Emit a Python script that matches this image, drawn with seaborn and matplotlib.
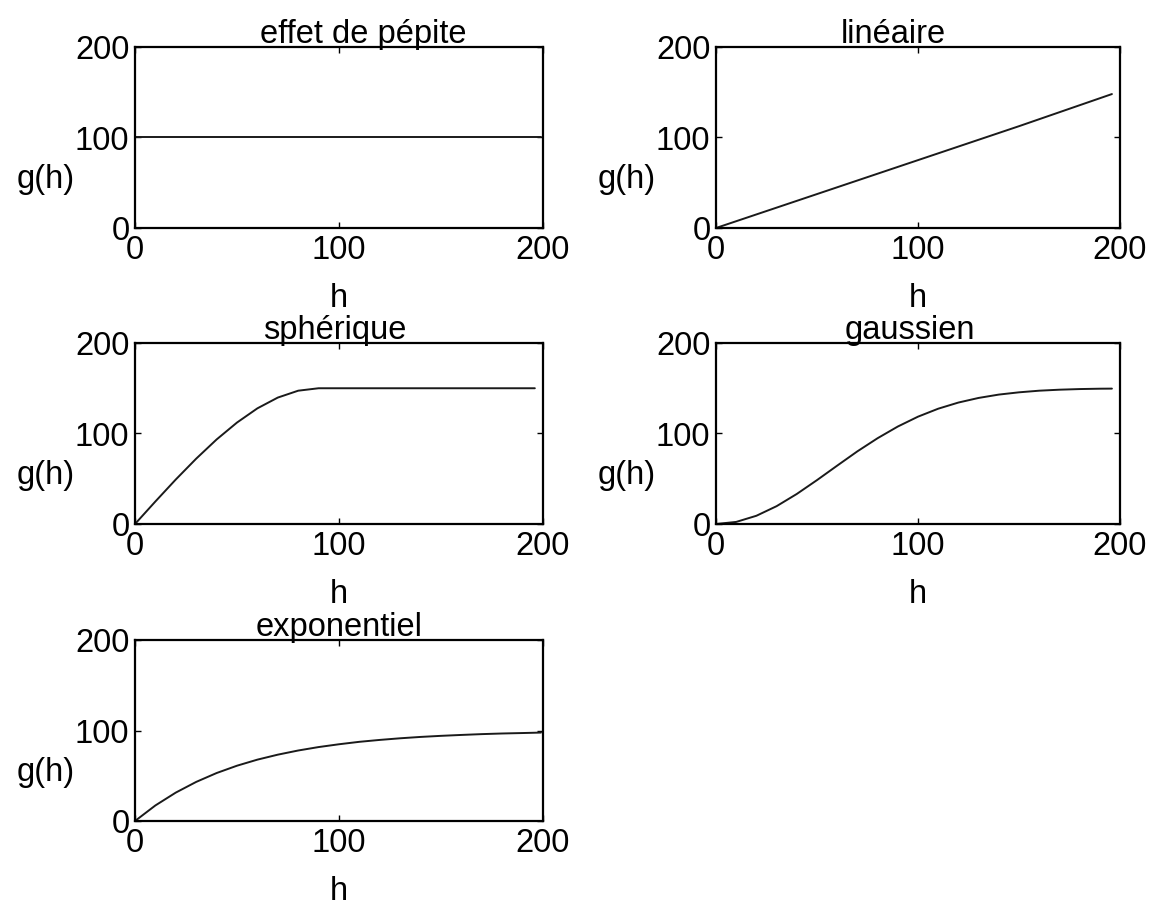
import matplotlib
matplotlib.use("Agg")
import matplotlib.pyplot as plt
import seaborn as sns
import pandas as pd

# ---- data ----
titles = ["effet de pépite", "linéaire", "sphérique", "gaussien", "exponentiel"]

h_nugget = [0, 50, 100, 150, 199]
g_nugget = [100, 100, 100, 100, 100]

h_linear = [0, 50, 100, 150, 196]
g_linear = [0, 37.5, 75, 112.5, 148]

h_sph = [0, 10, 20, 30, 40, 50, 60, 70, 80, 90, 100, 120, 140, 160, 180, 196]
g_sph = [0, 24.9, 49.2, 72.2, 93.4, 112.1, 127.8, 139.7, 147.3, 150, 150, 150, 150, 150, 150, 150]

h_gau = [0, 10, 20, 30, 40, 50, 60, 70, 80, 90, 100, 110, 120, 130, 140, 150, 160, 170, 180, 190, 196]
g_gau = [0, 2.3, 9.1, 19.7, 33.2, 48.5, 64.5, 80.3, 94.8, 107.7, 118.6, 127.4, 134.2, 139.3,
         143.0, 145.5, 147.3, 148.4, 149.1, 149.5, 149.6]

h_exp = [0, 10, 20, 30, 40, 50, 60, 70, 80, 90, 100, 110, 120, 130, 140, 150, 160, 170, 180, 190, 199]
g_exp = [0, 17.2, 31.4, 43.2, 53.0, 61.1, 67.8, 73.3, 77.9, 81.7, 84.8, 87.5, 89.6, 91.4,
         92.9, 94.1, 95.1, 96.0, 96.7, 97.2, 97.7]

series = [(h_nugget, g_nugget), (h_linear, g_linear), (h_sph, g_sph),
          (h_gau, g_gau), (h_exp, g_exp)]
ticks = [0, 100, 200]
tick_labels = ["0", "100", "200"]
title_x = [0.56, 0.44, 0.49, 0.48, 0.50]

sns.set_style("ticks")
plt.rcParams['font.family'] = ['Liberation Sans', 'DejaVu Sans']
plt.rcParams['text.color'] = 'black'
plt.rcParams['axes.labelcolor'] = 'black'

fig = plt.figure(figsize=(11.58, 9.05), dpi=100)
W, H = 1158, 905
col_left = [135, 716]
col_w = [408, 404]
row_top = [47, 343, 640]
ax_h = 181

fs = 23.5
for i, (hx, gy) in enumerate(series):
    r, c = divmod(i, 2)
    rect = [col_left[c] / W, 1 - (row_top[r] + ax_h) / H, col_w[c] / W, ax_h / H]
    ax = fig.add_axes(rect)
    df = pd.DataFrame({"h": hx, "g": gy})
    sns.lineplot(data=df, x="h", y="g", ax=ax, color="#1a1a1a", linewidth=1.4)
    ax.set_xlim(0, 200)
    ax.set_ylim(0, 200)
    ax.set_xticks(ticks)
    ax.set_xticklabels(tick_labels)
    ax.set_yticks(ticks)
    ax.set_yticklabels(tick_labels)
    ax.tick_params(direction="in", length=4, width=1, top=True, right=True,
                   labelsize=fs, colors="black")
    ax.tick_params(axis="x", pad=5)
    ax.tick_params(axis="y", pad=4)
    for s in ax.spines.values():
        s.set_linewidth(1.6)
        s.set_color("black")
    ax.set_title(titles[i], fontsize=fs, pad=3, x=title_x[i], color="black")
    ax.set_xlabel("h", fontsize=fs)
    ax.set_ylabel("g(h)", fontsize=fs, rotation=0, ha="center", va="center")
    ax.xaxis.set_label_coords(0.5, -0.387)
    ax.xaxis.label.set_va("center")
    ax.yaxis.set_label_coords(-0.22, 0.27)

fig.savefig("out.png", dpi=100, facecolor="white")
